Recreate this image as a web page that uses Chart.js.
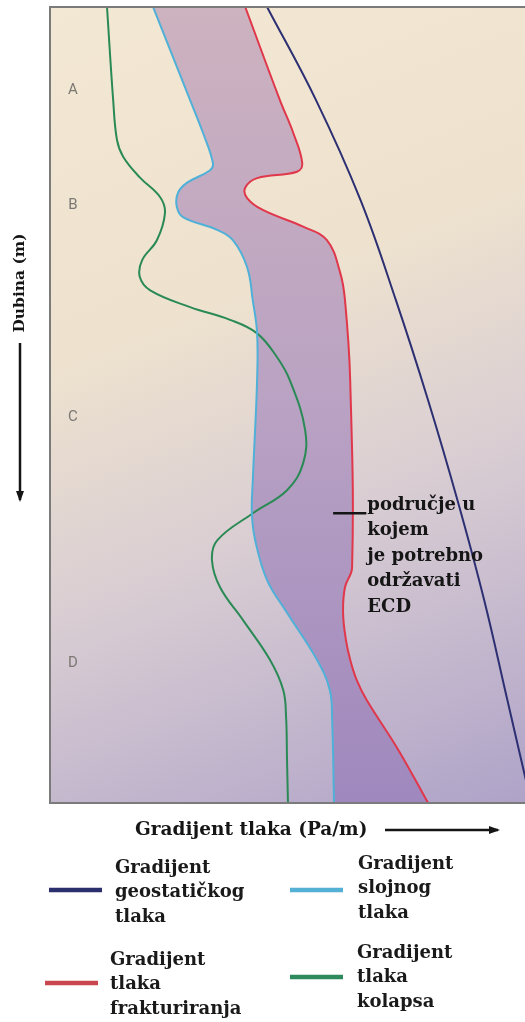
<!DOCTYPE html>
<html><head><meta charset="utf-8">
<script src="https://cdn.jsdelivr.net/npm/chart.js@4/dist/chart.umd.min.js"></script>
<style>html,body{margin:0;padding:0;background:#fff;} #wrap{width:525px;height:1022px;position:relative;}</style>
</head><body><div id="wrap"><canvas id="c"></canvas></div>
<script>
// Depth (m, arbitrary 0..1000) and pressure gradient (arbitrary 0..100)
const geoDepth  = [0, 117, 243, 368, 494, 620, 745, 871, 1000];
const geoGrad   = [45.7, 56.0, 65.4, 72.8, 79.6, 85.8, 91.4, 96.3, 101.3];

const poreDepth = [0, 117, 158, 196, 205, 221, 234, 251, 264, 280, 293, 327, 369, 410, 469, 594, 636, 670, 720, 761, 820, 858, 896, 1000];
const poreGrad  = [21.7, 29.5, 32.2, 34.3, 33.7, 28.8, 26.9, 26.7, 28.0, 35.2, 38.5, 41.5, 42.7, 43.6, 43.6, 42.7, 42.5, 43.2, 45.7, 49.9, 56.2, 58.9, 59.4, 59.8];

const fracDepth = [0, 117, 158, 196, 207, 215, 227, 240, 255, 276, 293, 334, 368, 469, 704, 729, 761, 795, 820, 846, 871, 933, 1000];
const fracGrad  = [41.1, 48.4, 51.2, 53.1, 52.0, 43.6, 41.1, 41.5, 44.8, 53.3, 58.3, 61.1, 62.1, 63.2, 63.6, 62.1, 61.7, 62.3, 63.2, 64.6, 66.7, 73.3, 79.6];

const collDepth = [0, 117, 167, 188, 214, 239, 259, 293, 318, 339, 356, 377, 393, 410, 440, 469, 531, 573, 607, 636, 670, 695, 729, 770, 820, 858, 892, 946, 1000];
const collGrad  = [12.0, 13.3, 14.1, 15.4, 18.9, 23.2, 24.2, 22.5, 19.4, 18.9, 21.1, 29.5, 37.9, 43.6, 47.8, 50.5, 53.7, 53.3, 49.9, 42.7, 35.2, 34.1, 35.8, 40.6, 46.3, 49.1, 49.7, 49.9, 50.1];

const seriesLabels = [
  ['Gradijent', 'geostatičkog', 'tlaka'],
  ['Gradijent', 'slojnog', 'tlaka'],
  ['Gradijent', 'tlaka', 'frakturiranja'],
  ['Gradijent', 'tlaka', 'kolapsa']
];
const zoneLabels = ['A', 'B', 'C', 'D'];
const zoneDepths = [104, 249, 515, 824];
const zoneGrad = 4.8;
const noteLines = ['područje u', 'kojem', 'je potrebno', 'održavati', 'ECD'];
const noteDepth = 636;
const noteFrom = 59.6, noteTo = 66.6;
const xTitle = 'Gradijent tlaka (Pa/m)';
const yTitle = 'Dubina (m)';

const toPts = (g, d) => g.map((v, i) => ({x: v, y: d[i]}));

const SERIF = '"DejaVu Serif", "Liberation Serif", serif';

function bandFill(c) {
  const a = c.chart.chartArea;
  if (!a) return 'rgba(190,165,195,0.9)';
  const g = c.chart.ctx.createLinearGradient(0, a.top, 0, a.bottom);
  g.addColorStop(0, '#cdb2bf');
  g.addColorStop(0.5, '#b9a2c3');
  g.addColorStop(1, '#9f88bd');
  return g;
}

const bgPlugin = {
  id: 'bg',
  beforeDraw(chart) {
    const {ctx, chartArea: a} = chart;
    const g = ctx.createLinearGradient(a.left, a.top, a.left + 350, a.top + 893);
    g.addColorStop(0, '#f3e8d3');
    g.addColorStop(0.35, '#eee2cf');
    g.addColorStop(0.6, '#d9cdd3');
    g.addColorStop(1, '#a99dc7');
    ctx.save();
    ctx.fillStyle = g;
    ctx.fillRect(a.left, a.top, a.right - a.left, a.bottom - a.top);
    ctx.restore();
  }
};

function arrow(ctx, x1, y1, x2, y2) {
  ctx.beginPath(); ctx.moveTo(x1, y1); ctx.lineTo(x2, y2); ctx.stroke();
  const ang = Math.atan2(y2 - y1, x2 - x1), L = 9, W = 4;
  ctx.beginPath();
  ctx.moveTo(x2 + Math.cos(ang) * 2, y2 + Math.sin(ang) * 2);
  ctx.lineTo(x2 - Math.cos(ang) * L - Math.sin(ang) * W, y2 - Math.sin(ang) * L + Math.cos(ang) * W);
  ctx.lineTo(x2 - Math.cos(ang) * L + Math.sin(ang) * W, y2 - Math.sin(ang) * L - Math.cos(ang) * W);
  ctx.closePath(); ctx.fill();
}

const decorPlugin = {
  id: 'decor',
  afterDraw(chart) {
    const {ctx, chartArea: a, scales: {x, y}} = chart;
    ctx.save();
    // frame
    ctx.strokeStyle = '#7c7b7c';
    ctx.lineWidth = 2;
    ctx.beginPath();
    ctx.moveTo(a.right + 2, a.top); ctx.lineTo(a.left, a.top); ctx.lineTo(a.left, a.bottom); ctx.lineTo(a.right + 2, a.bottom);
    ctx.stroke();
    // zone letters
    ctx.fillStyle = '#7b7772';
    ctx.font = '15px "Liberation Sans Narrow", Roboto, sans-serif';
    ctx.textAlign = 'center'; ctx.textBaseline = 'middle';
    zoneLabels.forEach((t, i) => ctx.fillText(t, x.getPixelForValue(zoneGrad), y.getPixelForValue(zoneDepths[i])));
    // note
    const ny = y.getPixelForValue(noteDepth);
    ctx.strokeStyle = '#151515'; ctx.lineWidth = 2.5;
    ctx.beginPath(); ctx.moveTo(x.getPixelForValue(noteFrom), ny); ctx.lineTo(x.getPixelForValue(noteTo), ny); ctx.stroke();
    ctx.fillStyle = '#151515';
    ctx.font = 'bold 18px ' + SERIF;
    ctx.textAlign = 'left'; ctx.textBaseline = 'middle';
    noteLines.forEach((t, i) => ctx.fillText(t, x.getPixelForValue(noteTo) + 1, ny - 8 + i * 25.5));
    // axis titles
    ctx.font = 'bold 18.5px ' + SERIF;
    ctx.fillText(xTitle, 135, 830);
    ctx.lineWidth = 2.5; ctx.strokeStyle = '#151515';
    arrow(ctx, 385, 830, 498, 830);
    ctx.save();
    ctx.font = 'bold 15.5px ' + SERIF;
    ctx.translate(20, 283); ctx.rotate(-Math.PI / 2);
    ctx.textAlign = 'center';
    ctx.fillText(yTitle, 0, 0);
    ctx.restore();
    arrow(ctx, 20, 343, 20, 500);
    // legend
    const pos = [
      {lx: 49, lw: 53, ly: 890, tx: 115, ty: 868},
      {lx: 290, lw: 53, ly: 890, tx: 358, ty: 864},
      {lx: 45, lw: 53, ly: 983, tx: 110, ty: 960},
      {lx: 290, lw: 53, ly: 977, tx: 357, ty: 953}
    ];
    const legendColors = ['#2c2f6e', '#55b0d6', '#c8464e', '#2e8a5c'];
    ctx.font = 'bold 18px ' + SERIF;
    seriesLabels.forEach((lines, i) => {
      const p = pos[i];
      ctx.strokeStyle = legendColors[i]; ctx.lineWidth = 4.5;
      ctx.beginPath(); ctx.moveTo(p.lx, p.ly); ctx.lineTo(p.lx + p.lw, p.ly); ctx.stroke();
      ctx.fillStyle = '#1a1a1a';
      lines.forEach((t, j) => ctx.fillText(t, p.tx, p.ty + j * 24.5));
    });
    ctx.restore();
  }
};

new Chart(document.getElementById('c'), {
  type: 'line',
  data: {
    datasets: [
      {label: seriesLabels[0].join(' '), data: toPts(geoGrad, geoDepth), borderColor: '#2c2f72', fill: false},
      {label: seriesLabels[1].join(' '), data: toPts(poreGrad, poreDepth), borderColor: '#4fb0d8', fill: false},
      {label: seriesLabels[2].join(' '), data: toPts(fracGrad, fracDepth), borderColor: '#e0374b', fill: 1, backgroundColor: bandFill},
      {label: seriesLabels[3].join(' '), data: toPts(collGrad, collDepth), borderColor: '#2a8a55', fill: false}
    ]
  },
  options: {
    responsive: true, maintainAspectRatio: false, animation: false,
    indexAxis: 'y',
    layout: {padding: {left: 50, top: 7, right: 0, bottom: 219}},
    scales: {
      x: {type: 'linear', min: 0, max: 100, display: false},
      y: {type: 'linear', min: 0, max: 1000, reverse: true, display: false}
    },
    plugins: {legend: {display: false}, tooltip: {enabled: false}, filler: {drawTime: 'beforeDatasetsDraw'}},
    elements: {point: {radius: 0}, line: {tension: 0.4, borderWidth: 2}}
  },
  plugins: [bgPlugin, decorPlugin]
});
</script></body></html>
